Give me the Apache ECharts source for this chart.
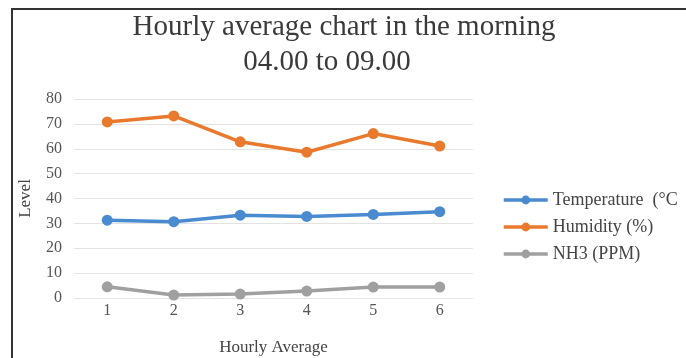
<!DOCTYPE html>
<html>
<head>
<meta charset="utf-8">
<script src="https://cdn.jsdelivr.net/npm/echarts@6/dist/echarts.min.js"></script>
<style>
  html, body { margin: 0; padding: 0; background: #fff; }
  #chart { width: 686px; height: 358px; }
  .frame {
    position: absolute; left: 11px; top: 8px; width: 680px; height: 360px;
    border-top: 2px solid #333; border-left: 2px solid #333;
    pointer-events: none;
  }
</style>
</head>
<body>
<div id="chart"></div>
<div class="frame"></div>
<script>
  // data
  const hours = ['1', '2', '3', '4', '5', '6']
  const temperature = [31.3, 30.7, 33.3, 32.8, 33.6, 34.7]
  const humidity = [70.8, 73.2, 62.8, 58.6, 66.1, 61.1]
  const nh3 = [4.5, 1.2, 1.6, 2.8, 4.4, 4.4]
  const yTicks = [0, 10, 20, 30, 40, 50, 60, 70, 80]

  const serif = 'Liberation Serif'
  const chart = echarts.init(document.getElementById('chart'))

  const makeSeries = (name, data, color) => ({
    name: name,
    type: 'line',
    data: data,
    symbol: 'circle',
    symbolSize: 11,
    lineStyle: { width: 3.5, color: color },
    itemStyle: { color: color },
    emphasis: { disabled: true }
  })

  const option = {
    animation: false,
    title: [
      {
        text: 'Hourly average chart in the morning',
        left: 339, top: 8, textAlign: 'center',
        textStyle: { fontFamily: serif, fontSize: 29, fontWeight: 'normal', color: '#3a3a3a' }
      },
      {
        text: '04.00 to 09.00',
        left: 322, top: 43, textAlign: 'center',
        textStyle: { fontFamily: serif, fontSize: 29, fontWeight: 'normal', color: '#3a3a3a' }
      }
    ],
    legend: {
      orient: 'vertical',
      left: 497,
      top: 186,
      itemGap: 9,
      itemWidth: 44,
      itemHeight: 11,
      lineStyle: { width: 3.5 },
      textStyle: { fontFamily: serif, fontSize: 18, color: '#444' },
      data: ['Temperature  (°C', 'Humidity (%)', 'NH3 (PPM)']
    },
    grid: { left: 74, right: 213, top: 99, bottom: 60, outerBoundsMode: 'none' },
    xAxis: {
      type: 'category',
      data: hours,
      name: 'Hourly Average',
      nameLocation: 'middle',
      nameGap: 41,
      nameTextStyle: { fontFamily: serif, fontSize: 17, color: '#444' },
      axisLine: { show: false },
      axisTick: { show: false },
      axisLabel: { fontFamily: serif, fontSize: 16, color: '#555', margin: 5 }
    },
    yAxis: {
      type: 'value',
      min: yTicks[0],
      max: yTicks[yTicks.length - 1],
      interval: 10,
      name: 'Level',
      nameLocation: 'middle',
      nameGap: 40,
      nameTextStyle: { fontFamily: serif, fontSize: 17, color: '#444' },
      axisLabel: { fontFamily: serif, fontSize: 16, color: '#555', margin: 12 },
      splitLine: { lineStyle: { color: '#e3e3e3', width: 1 } }
    },
    series: [
      makeSeries('Temperature  (°C', temperature, '#4a8bd0'),
      makeSeries('Humidity (%)', humidity, '#e8792d'),
      makeSeries('NH3 (PPM)', nh3, '#a0a0a0')
    ]
  }

  chart.setOption(option)
</script>
</body>
</html>
